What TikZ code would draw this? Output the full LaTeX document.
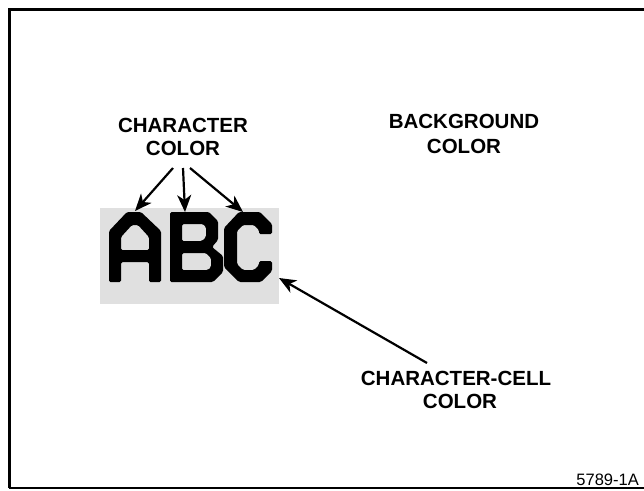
\documentclass[tikz,border=0pt]{standalone}
\usepackage{fontspec}
\setmainfont{Liberation Sans}
\usetikzlibrary{arrows.meta}

\tikzset{
  label/.style={font=\bfseries\fontsize{20.5}{23}\selectfont, inner sep=0pt, anchor=base},
  pointer/.style={line width=2.2pt, -{Stealth[length=17pt, width=14pt, inset=5pt]}},
  glyph/.style={fill=black, even odd rule, rounded corners=1.5pt},
  framebar/.style={line width=3pt},
}

\begin{document}
\begin{tikzpicture}[x=1pt, y=-1pt]
  \useasboundingbox (0,0) rectangle (644,490);

  % outer frame (right edge runs past the page)
  \draw[framebar] (9,488) -- (9,9.5) -- (660,9.5);
  \draw[line width=1.5pt] (9,488) -- (660,488);

  % character cell
  \fill[black!12] (100,208) rectangle (279,304);

  % letter A
  \path[glyph]
    (109,282) -- (109,231) -- (127,212) -- (141,212) -- (161,231) -- (161,282)
    -- (149,282) -- (149,262) -- (121,262) -- (121,282) -- cycle
    (121,250) -- (121,237) -- (132,225) -- (138,225) -- (149,237) -- (149,250) -- cycle;

  % letter B
  \path[glyph]
    (170,212) -- (209,212) -- (218,221) -- (218,240) -- (212,247) -- (223,256)
    -- (223,272) -- (213,282) -- (170,282) -- cycle
    (182,224) -- (203,224) -- (206,227) -- (206,237) -- (202,241) -- (182,241) -- cycle
    (182,253) -- (206,253) -- (211,258) -- (211,267) -- (208,270) -- (182,270) -- cycle;

  % letter C
  \path[glyph]
    (224,228) -- (239,212) -- (260,212) -- (272,224) -- (272,234) -- (259,234)
    -- (259,230) -- (254,225) -- (243,225) -- (237,231) -- (237,264) -- (243,270)
    -- (254,270) -- (259,265) -- (259,261) -- (272,261) -- (272,271) -- (261,282)
    -- (239,282) -- (224,267) -- cycle;

  % labels
  \node[label] (chr1) at (183,132) {CHARACTER};
  \node[label] (chr2) at (183,155) {COLOR};
  \node[label] (bg1)  at (464,128) {BACKGROUND};
  \node[label] (bg2)  at (464,153) {COLOR};
  \node[label] (cell1) at (456,385) {CHARACTER-CELL};
  \node[label] (cell2) at (460,408) {COLOR};
  \node[font=\fontsize{16.5}{19}\selectfont, inner sep=0pt, anchor=base east] (fig) at (639,485) {5789-1A};

  % arrow anchors
  \coordinate (aL) at (173,168);
  \coordinate (aM) at (183,168);
  \coordinate (aR) at (190,168);
  \coordinate (tA) at (135,211);
  \coordinate (tB) at (185,212);
  \coordinate (tC) at (243,212);
  \coordinate (cellstart) at (427,363);
  \coordinate (celltip) at (279,278);

  \draw[pointer] (aL) -- (tA);
  \draw[pointer] (aM) -- (tB);
  \draw[pointer] (aR) -- (tC);
  \draw[pointer] (cellstart) -- (celltip);
\end{tikzpicture}
\end{document}
